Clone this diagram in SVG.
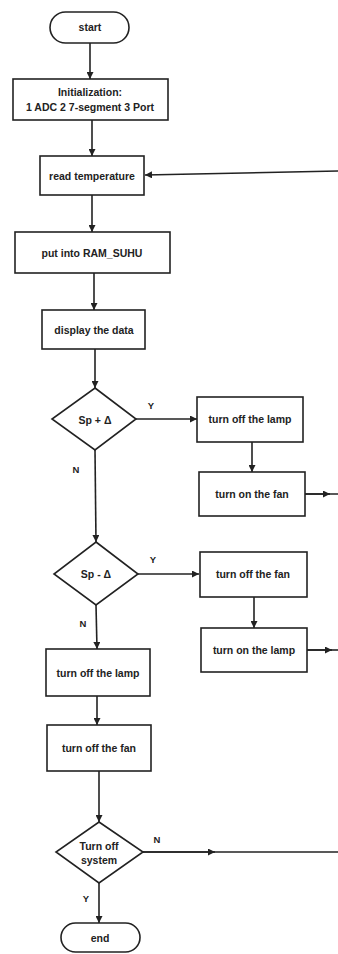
<svg xmlns="http://www.w3.org/2000/svg" width="338" height="954" viewBox="0 0 338 954">
<style>
.b{fill:#fff;stroke:#222;stroke-width:1.6}
.t{font-family:"Liberation Sans",Arial,sans-serif;font-size:10.5px;font-weight:bold;fill:#222;text-anchor:middle;dominant-baseline:central}
.l{font-family:"Liberation Sans",Arial,sans-serif;font-size:9.5px;font-weight:bold;fill:#222;text-anchor:middle;dominant-baseline:central}
.c{fill:none;stroke:#222;stroke-width:1.6}
</style>
<defs>
<marker id="a" viewBox="0 0 10 10" refX="10" refY="5" markerWidth="7" markerHeight="7" markerUnits="userSpaceOnUse" orient="auto"><path d="M0,0L10,5L0,10z" fill="#222"/></marker>
</defs>
<rect width="338" height="954" fill="#fff"/>
<g id="connectors">
<path class="c" d="M90,43V79" marker-end="url(#a)"/>
<path class="c" d="M92,120V156" marker-end="url(#a)"/>
<path class="c" d="M338,171L145,175" marker-end="url(#a)"/>
<path class="c" d="M92,195V232" marker-end="url(#a)"/>
<path class="c" d="M94,273V310" marker-end="url(#a)"/>
<path class="c" d="M95,349V388" marker-end="url(#a)"/>
<path class="c" d="M136,419H197" marker-end="url(#a)"/>
<path class="c" d="M252,442V472" marker-end="url(#a)"/>
<path class="c" d="M305,494H338"/>
<path class="c" d="M305,494H330" marker-end="url(#a)"/>
<path class="c" d="M95,450L96,542" marker-end="url(#a)"/>
<path class="c" d="M138,574H199" marker-end="url(#a)"/>
<path class="c" d="M254,597V628" marker-end="url(#a)"/>
<path class="c" d="M307,650H338"/>
<path class="c" d="M307,650H332" marker-end="url(#a)"/>
<path class="c" d="M96,605L97,649" marker-end="url(#a)"/>
<path class="c" d="M97,696V725" marker-end="url(#a)"/>
<path class="c" d="M99,771V822" marker-end="url(#a)"/>
<path class="c" d="M143,852H338"/>
<path class="c" d="M143,852H215" marker-end="url(#a)"/>
<path class="c" d="M99,883V923" marker-end="url(#a)"/>
<text class="l" x="151" y="405">Y</text>
<text class="l" x="76" y="469">N</text>
<text class="l" x="153" y="559">Y</text>
<text class="l" x="83" y="623">N</text>
<text class="l" x="157" y="839">N</text>
<text class="l" x="86" y="898">Y</text>
</g>
<g id="start"><rect class="b" x="50" y="12" width="79" height="31" rx="15.5"/><text class="t" x="90" y="27">start</text></g>
<g id="init"><rect class="b" x="13" y="79" width="155" height="41"/><text class="t" x="90" y="92">Initialization:</text><text class="t" x="90" y="107">1 ADC 2 7-segment 3 Port</text></g>
<g id="read"><rect class="b" x="40" y="156" width="104" height="39"/><text class="t" x="92" y="176">read temperature</text></g>
<g id="put"><rect class="b" x="15" y="232" width="155" height="41"/><text class="t" x="92" y="253">put  into RAM_SUHU</text></g>
<g id="display"><rect class="b" x="42" y="310" width="103" height="39"/><text class="t" x="94" y="330">display the data</text></g>
<g id="d1"><path class="b" d="M95,388L136,419L95,450L52,419Z"/><text class="t" x="95" y="420">Sp + Δ</text></g>
<g id="lampoff1"><rect class="b" x="197" y="397" width="106" height="45"/><text class="t" x="250" y="419">turn off the lamp</text></g>
<g id="fanon"><rect class="b" x="199" y="472" width="106" height="44"/><text class="t" x="252" y="494">turn on the fan</text></g>
<g id="d2"><path class="b" d="M96,542L138,574L96,605L54,574Z"/><text class="t" x="96" y="574">Sp - Δ</text></g>
<g id="fanoff1"><rect class="b" x="200" y="552" width="107" height="45"/><text class="t" x="253" y="574">turn off the fan</text></g>
<g id="lampon"><rect class="b" x="201" y="628" width="106" height="44"/><text class="t" x="254" y="650">turn on the lamp</text></g>
<g id="lampoff2"><rect class="b" x="46" y="649" width="104" height="47"/><text class="t" x="98" y="673">turn off the lamp</text></g>
<g id="fanoff2"><rect class="b" x="47" y="725" width="104" height="46"/><text class="t" x="99" y="748">turn off the fan</text></g>
<g id="d3"><path class="b" d="M99,822L143,852L99,883L56,852Z"/><text class="t" x="99" y="846">Turn off</text><text class="t" x="99" y="860">system</text></g>
<g id="end"><rect class="b" x="61" y="923" width="79" height="29" rx="14.5"/><text class="t" x="100" y="938">end</text></g>
</svg>
